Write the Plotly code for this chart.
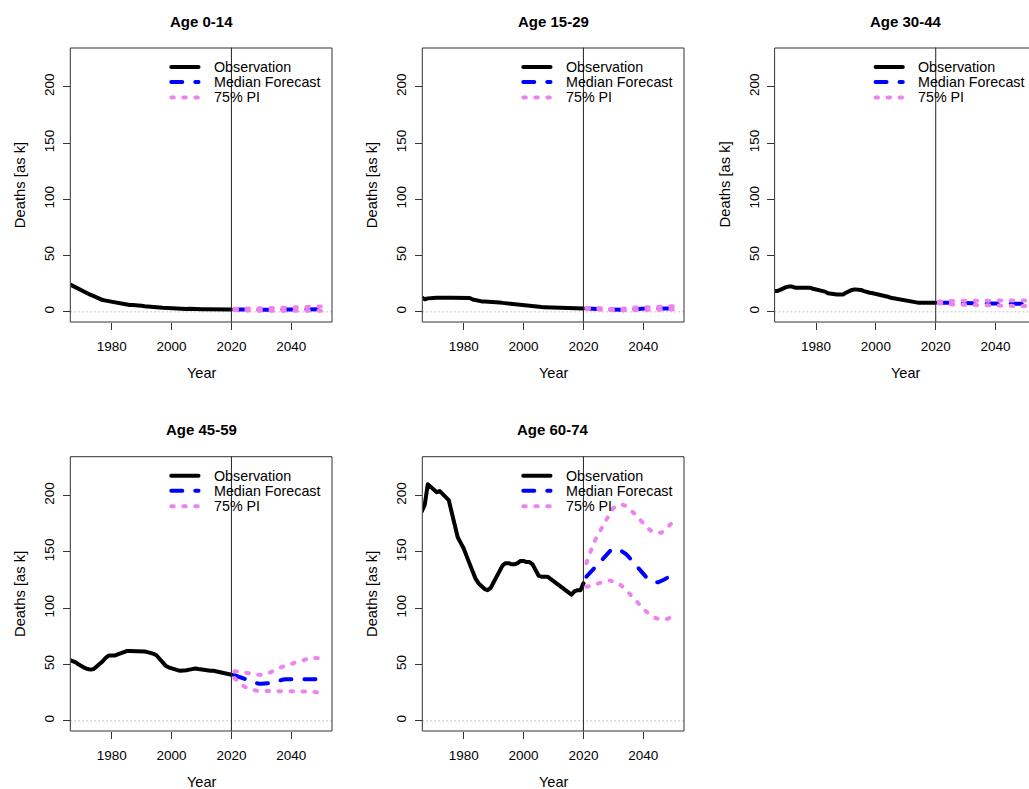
import plotly.graph_objects as go

W, H = 1029, 789
FONT = "Liberation Sans, Arial, sans-serif"

obs_years = list(range(1966, 2021))
fc_years = list(range(2021, 2051))

titles = ["Age 0-14", "Age 15-29", "Age 30-44", "Age 45-59", "Age 60-74"]
legend_labels = ["Observation", "Median Forecast", "75% PI"]
x_ticks = [1980, 2000, 2020, 2040]
y_ticks = [0, 50, 100, 150, 200]

# ---------------- Age 0-14 ----------------
obs_0_14 = [24.5, 23, 22, 20.5, 19, 17.5, 16.5, 15, 14, 12.5, 11.5, 10.5, 10, 9.5, 9, 8.5, 7.5, 7, 6.5, 6.3,
            6.1, 6, 6, 5.8, 5.5, 5, 4.6, 4.3, 4.2, 4, 3.8, 3.6, 3.4, 3.2, 3.1, 3, 2.9, 2.8, 2.7, 2.6,
            2.8, 2.5, 2.4, 2.4, 2.3, 2.3, 2.3, 2.2, 2.2, 2.2, 2.2, 2.1, 2.1, 2.1, 2.1]
med_0_14 = [2.1, 2.0, 2.0, 2.0, 2.0, 2.1, 2.1, 2.1, 2.0, 1.9, 1.9, 1.9, 2.0, 2.0, 2.1, 2.1, 2.2, 2.2, 2.2, 2.2,
            2.2, 2.2, 2.2, 2.2, 2.2, 2.2, 2.3, 2.3, 2.3, 2.3]
up_0_14 = [2.6, 2.8, 3.0, 3.2, 3.3, 3.4, 3.4, 3.3, 3.2, 3.1, 3.1, 3.2, 3.3, 3.4, 3.5, 3.6, 3.7, 3.8, 3.9, 4.0,
           4.0, 4.0, 3.9, 3.9, 3.9, 4.0, 4.2, 4.5, 4.7, 4.8]
lo_0_14 = [1.6, 1.4, 1.3, 1.2, 1.1, 1.1, 1.1, 1.1, 1.1, 1.0, 1.0, 1.0, 1.0, 1.0, 1.0, 1.0, 1.0, 1.0, 1.0, 1.0,
           1.0, 1.0, 1.0, 1.0, 1.0, 1.0, 1.0, 1.0, 1.0, 1.0]

# ---------------- Age 15-29 ----------------
obs_15_29 = [12.7, 11.2, 12, 12.5, 12.5, 12.6, 12.6, 12.5, 11.8, 12.5, 12.6, 12.7, 12.7, 12.7, 12.7, 12.6, 12.3,
             11, 10.2, 9.6, 9.3, 9.2, 9.2, 9.1, 9, 8.8, 8.4, 8, 7.7, 7.4, 7, 6.5, 6, 5.8, 5.6, 5.3, 5.2, 5.1,
             4.8, 4.4, 4.3, 4.2, 4.1, 4, 3.9, 3.6, 3.2, 3.1, 3.1, 3.0, 3.0, 3.0, 3.0, 3.0, 3.0]
med_15_29 = [3.0, 3.0, 3.0, 2.9, 2.8, 2.6, 2.4, 2.2, 2.0, 1.8, 1.7, 1.6, 1.6, 1.8, 2.0, 2.3, 2.6, 2.8, 2.9, 3.0,
             3.0, 3.0, 3.0, 3.0, 3.0, 3.0, 3.0, 3.0, 3.0, 3.0]
up_15_29 = [3.5, 3.7, 3.8, 3.7, 3.5, 3.2, 2.9, 2.6, 2.4, 2.3, 2.3, 2.5, 2.9, 3.3, 3.6, 3.8, 3.9, 3.9, 3.9, 3.9,
            3.9, 3.9, 3.9, 4.0, 4.1, 4.3, 4.5, 4.7, 4.9, 5.0]
lo_15_29 = [2.6, 2.4, 2.3, 2.2, 2.0, 1.8, 1.6, 1.4, 1.3, 1.2, 1.2, 1.2, 1.3, 1.4, 1.6, 1.8, 2.0, 2.1, 2.2, 2.2,
            2.2, 2.2, 2.2, 2.1, 2.1, 2.0, 2.0, 2.0, 2.0, 2.0]

# ---------------- Age 30-44 ----------------
obs_30_44 = [18.5, 18.5, 19.5, 21, 22, 22.5, 22.5, 21.5, 21.5, 21.5, 21, 21.5, 21.5, 20.5, 20, 19.5, 19, 18,
             16.5, 16, 15.5, 15.5, 15.5, 15.5, 17, 18.5, 19.5, 20, 20, 19.5, 18.5, 17.5, 17, 16.5, 16, 15.5,
             15, 14.5, 13.5, 12.5, 12, 11, 10.5, 10, 10, 9.5, 8.5, 8.3, 8.2, 8.2, 8.2, 8.2, 8.2, 8.2, 8.2]
med_30_44 = [8.2, 8.2, 8.1, 8.1, 8.0, 8.0, 8.0, 8.0, 8.0, 8.0, 8.0, 8.0, 8.0, 8.0, 7.9, 7.8, 7.7, 7.6, 7.5, 7.4,
             7.3, 7.3, 7.3, 7.3, 7.3, 7.3, 7.3, 7.3, 7.3, 7.3]
up_30_44 = [9.0, 9.3, 9.5, 9.6, 9.7, 9.8, 9.8, 9.8, 9.8, 9.8, 9.8, 9.8, 9.8, 9.8, 9.8, 9.7, 9.6, 9.5, 9.5, 9.5,
            9.5, 9.5, 9.5, 9.6, 9.7, 9.8, 9.9, 10.0, 10.1, 10.2]
lo_30_44 = [7.6, 7.2, 7.0, 6.8, 6.6, 6.5, 6.4, 6.3, 6.2, 6.1, 6.0, 6.0, 6.0, 6.0, 5.9, 5.8, 5.7, 5.6, 5.5, 5.4,
            5.3, 5.2, 5.2, 5.2, 5.2, 5.2, 5.2, 5.2, 5.2, 5.2]

# ---------------- Age 45-59 ----------------
obs_45_59 = [54, 53, 52, 50, 48, 47, 46, 45.5, 46, 48, 50, 53, 56, 58, 58, 58, 59, 60, 61, 62, 62, 62, 62, 62,
             62, 61.5, 61, 60.5, 59.5, 58, 55, 52, 49, 47.5, 46.5, 45.5, 45, 44.5, 44.5, 45, 45.5, 46, 46.5,
             46, 45.5, 45, 44.5, 44.5, 44.5, 44, 43.5, 43, 42, 41.5, 41]
med_45_59 = [40.5, 39.5, 38.5, 37.5, 36.5, 35.5, 34.5, 33.5, 33, 33, 33, 33, 33.5, 34, 35, 36, 36.5, 37, 37,
             37.5, 37.5, 37.5, 37.5, 37.5, 37.5, 37.5, 37.5, 37, 36.5, 36]
up_45_59 = [44, 44, 43.5, 43, 42.5, 42, 41.5, 41, 41, 41, 41.5, 42, 43, 44.5, 46, 47, 48, 49, 50, 51, 51.5, 52,
            53, 54, 55, 55.5, 56, 56, 55.5, 55]
lo_45_59 = [38, 35.5, 33, 31, 29.5, 28.5, 27.5, 27, 26.5, 26.5, 26.5, 26.5, 26.5, 26.5, 26.5, 26.5, 26.5, 26.5,
            26.5, 26.5, 26.5, 26.5, 26.5, 26.5, 26.5, 26, 26, 25.5, 25.5, 25.5]

# ---------------- Age 60-74 ----------------
obs_60_74 = [186, 192, 210, 208, 205, 203, 204, 201, 198, 196, 185, 172, 163, 158, 153, 146, 139, 131, 126, 122,
             119, 117, 116, 118, 123, 128, 134, 138, 140, 140, 139, 139, 140, 142, 142, 141, 141, 139, 134, 129,
             128, 128, 128, 126, 124, 121, 120, 118, 115, 113, 112, 115, 116, 116, 122]
med_60_74 = [128, 131, 134, 137, 140, 143, 146, 149, 151, 152.5, 153, 152, 150.5, 148.5, 146, 143, 140, 136.5,
             133, 130, 127.5, 125.5, 124, 123, 123, 124, 125.5, 127, 129, 130.5]
up_60_74 = [140, 148, 155, 161, 166, 171, 176, 181, 185, 189, 191, 192, 192, 191, 189, 187, 184, 181, 178, 175,
            172, 170, 168, 167, 167, 167, 169, 172, 175, 177]
lo_60_74 = [119, 119.5, 120, 121, 122, 123, 124, 124.5, 124.5, 124, 123, 121.5, 119.5, 117, 114, 111, 108, 105,
            102, 99.5, 97, 95, 93, 91.5, 90.5, 90, 90, 90.5, 91.5, 92.5]

obs_series = [obs_0_14, obs_15_29, obs_30_44, obs_45_59, obs_60_74]
med_series = [med_0_14, med_15_29, med_30_44, med_45_59, med_60_74]
up_series = [up_0_14, up_15_29, up_30_44, up_45_59, up_60_74]
lo_series = [lo_0_14, lo_15_29, lo_30_44, lo_45_59, lo_60_74]

# ---------------- layout geometry (screen pixels) ----------------
boxes = [(70.7, 332.0, 48.0, 322.0), (422.7, 684.0, 48.0, 322.0), (775.0, 1036.3, 48.0, 322.0),
         (70.7, 332.0, 456.7, 731.0), (422.7, 684.0, 456.7, 731.0)]
X0, X1 = 1966.3, 2053.6
Y0, Y1 = -9.0, 234.5

OBS_C, MED_C, PI_C = "black", "#0000FF", "#EE82EE"
MED_DASH, PI_DASH = "11px,13px", "2.5px,9.5px"


def pxx(p):
    return p / W


def pxy(p):
    return 1 - p / H


fig = go.Figure()
layout = dict(width=W, height=H, margin=dict(l=0, r=0, t=0, b=0), paper_bgcolor="white",
              plot_bgcolor="white", showlegend=False, font=dict(family=FONT, color="black"))
shapes, annotations = [], []

for i in range(5):
    n = "" if i == 0 else str(i + 1)
    xa, ya = "x" + n, "y" + n
    left, right, top, bottom = boxes[i]
    vis_right = min(right, W)
    ppy = (right - left) / (X1 - X0)
    xr1 = X0 + (vis_right - left) / ppy
    layout["xaxis" + n] = dict(domain=[pxx(left), min(1.0, pxx(vis_right))], range=[X0, xr1], anchor=ya,
                               tickvals=x_ticks, ticks="outside", ticklen=7, tickwidth=1, tickcolor="#333",
                               showgrid=False, zeroline=False, showline=False,
                               tickfont=dict(size=13.5, family=FONT, color="black"), ticklabelstandoff=5)
    layout["yaxis" + n] = dict(domain=[pxy(bottom), pxy(top)], range=[Y0, Y1], anchor=xa,
                               tickvals=y_ticks, ticks="outside", ticklen=7, tickwidth=1, tickcolor="#333",
                               showgrid=False, zeroline=False, showline=False, tickangle=-90,
                               tickfont=dict(size=13.5, family=FONT, color="black"), ticklabelstandoff=3)

    fig.add_trace(go.Scatter(x=obs_years, y=obs_series[i], mode="lines", xaxis=xa, yaxis=ya,
                             line=dict(color=OBS_C, width=4), hoverinfo="skip"))
    fig.add_trace(go.Scatter(x=fc_years, y=med_series[i], mode="lines", xaxis=xa, yaxis=ya,
                             line=dict(color=MED_C, width=4, dash=MED_DASH), hoverinfo="skip"))
    fig.add_trace(go.Scatter(x=fc_years, y=up_series[i], mode="lines", xaxis=xa, yaxis=ya,
                             line=dict(color=PI_C, width=4, dash=PI_DASH), hoverinfo="skip"))
    fig.add_trace(go.Scatter(x=fc_years, y=lo_series[i], mode="lines", xaxis=xa, yaxis=ya,
                             line=dict(color=PI_C, width=4, dash=PI_DASH), hoverinfo="skip"))

    # zero reference line (dotted light grey)
    shapes.append(dict(type="line", xref=xa + " domain", x0=0, x1=1, yref=ya, y0=0, y1=0,
                       line=dict(color="#BEBEBE", width=1, dash="1px,3px"), layer="below"))
    # vertical line at 2020
    shapes.append(dict(type="line", xref=xa, x0=2020, x1=2020, yref=ya + " domain", y0=0, y1=1,
                       line=dict(color="#222", width=1)))
    # box
    shapes.append(dict(type="rect", xref="paper", yref="paper", x0=pxx(left), x1=pxx(right),
                       y0=pxy(bottom), y1=pxy(top), line=dict(color="#333", width=1)))

    # legend (no frame)
    h = bottom - top
    offs = [19, 34, 49.5]
    styles = [(OBS_C, None), (MED_C, MED_DASH), (PI_C, PI_DASH)]
    for k in range(3):
        yy = 1 - offs[k] / h
        ln = dict(color=styles[k][0], width=4)
        if styles[k][1]:
            ln["dash"] = styles[k][1]
        shapes.append(dict(type="line", xref=xa, x0=1999.9, x1=2009.0, yref=ya + " domain", y0=yy, y1=yy,
                           line=ln))
        annotations.append(dict(text=legend_labels[k], xref=xa, x=2013.5, yref=ya + " domain", y=yy,
                                xanchor="left", yanchor="middle", showarrow=False,
                                font=dict(size=14.3, family=FONT, color="black")))

    cx = (left + right) / 2
    cy = (top + bottom) / 2
    # title
    annotations.append(dict(text="<b>" + titles[i] + "</b>", xref="paper", yref="paper", x=pxx(cx),
                            y=pxy(top - 27), xanchor="center", yanchor="middle", showarrow=False,
                            font=dict(size=15, family=FONT, color="black")))
    # axis titles
    annotations.append(dict(text="Year", xref="paper", yref="paper", x=pxx(cx), y=pxy(bottom + 51),
                            xanchor="center", yanchor="middle", showarrow=False,
                            font=dict(size=14.5, family=FONT, color="black")))
    annotations.append(dict(text="Deaths [as k]", xref="paper", yref="paper", x=pxx(left - 50.5),
                            y=pxy(cy), xanchor="center", yanchor="middle", textangle=-90, showarrow=False,
                            font=dict(size=14.8, family=FONT, color="black")))

layout["shapes"] = shapes
layout["annotations"] = annotations
fig.update_layout(**layout)

post = (
    "document.body.style.margin='0';document.body.style.overflow='hidden';"
    "document.querySelectorAll('path.js-line, .shapelayer path').forEach(function(p){"
    "p.style.strokeLinecap='round';p.style.strokeLinejoin='round';});"
)
fig.write_html("out.html", config={"displayModeBar": False}, post_script=post)
